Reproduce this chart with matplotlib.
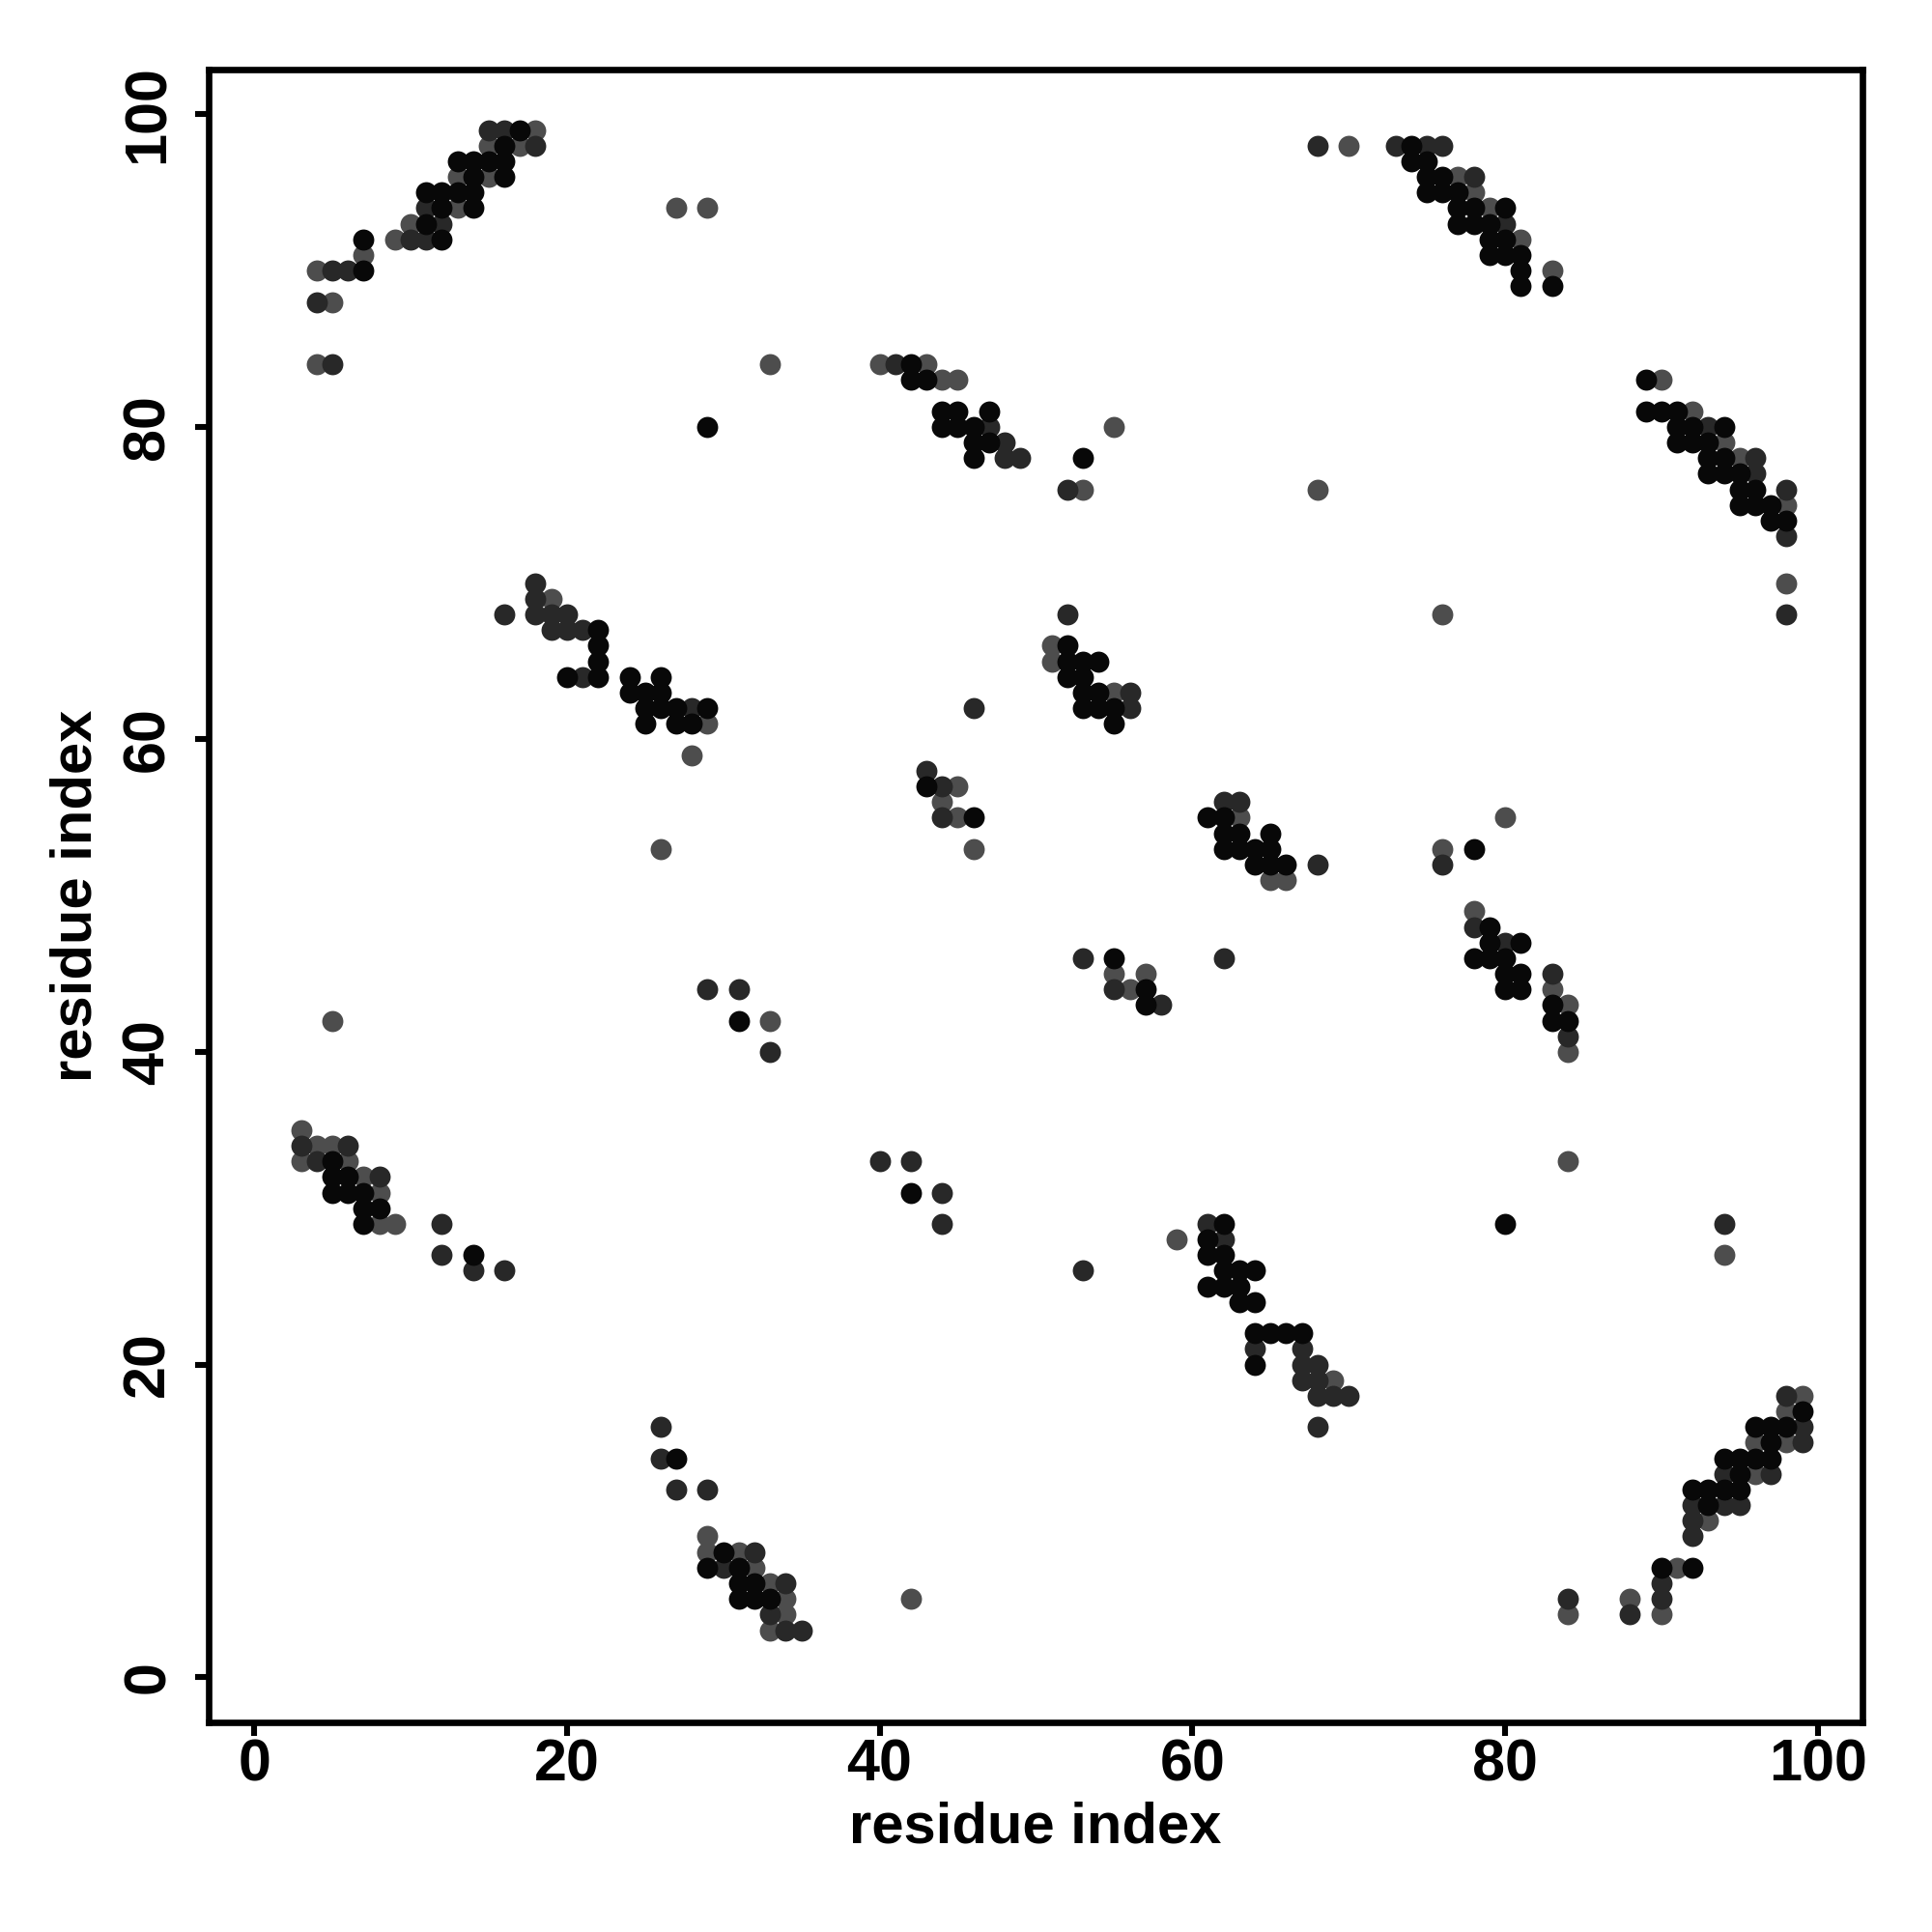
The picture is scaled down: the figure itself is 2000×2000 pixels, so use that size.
import matplotlib
matplotlib.use("Agg")
import matplotlib.pyplot as plt

# contact map: (i, j) residue pairs, grouped by shade of the dot
black_pts = [
    (17, 99), (16, 98), (13, 97), (14, 97), (15, 97), (16, 97), (14, 96), (16, 96),
    (11, 95), (12, 95), (13, 95), (14, 95), (12, 94), (14, 94), (11, 93), (12, 92),
    (7, 92), (7, 90), (29, 80),
    (42, 84), (42, 83), (43, 83), (44, 81), (45, 81), (47, 81), (44, 80), (45, 80),
    (46, 80), (46, 79), (47, 79), (46, 78), (53, 78),
    (74, 98), (74, 97), (75, 97), (75, 96), (76, 96), (75, 95), (76, 95), (77, 95),
    (77, 94), (78, 94), (80, 94), (77, 93), (78, 93), (79, 93), (79, 92), (80, 92),
    (79, 91), (80, 91), (81, 91), (81, 90), (81, 89), (83, 89),
    (89, 83), (89, 81), (90, 81), (91, 81), (91, 80), (92, 80), (94, 80), (91, 79),
    (92, 79), (93, 79), (93, 78), (94, 78), (93, 77), (94, 77), (95, 77),
    (95, 76), (96, 76), (95, 75), (96, 75), (97, 75), (97, 74), (98, 74), (78, 53),
    (22, 67), (22, 66), (22, 65), (20, 64), (22, 64), (24, 64), (26, 64), (24, 63),
    (25, 63), (26, 63), (25, 62), (26, 62), (27, 62), (29, 62), (25, 61), (27, 61), (28, 61),
    (52, 66), (52, 65), (53, 65), (54, 65), (52, 64), (53, 64), (53, 63), (54, 63),
    (53, 62), (54, 62), (55, 62), (55, 61),
    (43, 57), (46, 55), (61, 55), (62, 55), (62, 54), (63, 54), (65, 54), (62, 53),
    (63, 53), (64, 53), (65, 53), (64, 52), (65, 52), (66, 52),
    (31, 42), (5, 33), (5, 32), (6, 32), (5, 31), (6, 31), (7, 31), (7, 30), (8, 30),
    (7, 29), (14, 27),
    (55, 46), (57, 44), (57, 43), (42, 31), (62, 29), (61, 28), (61, 27), (62, 27),
    (62, 26), (63, 26), (64, 26), (61, 25), (62, 25), (63, 25),
    (63, 24), (64, 24), (64, 22), (65, 22), (66, 22), (67, 22), (64, 20), (33, 5),
    (27, 14), (30, 8), (29, 7), (31, 7), (31, 6), (32, 6), (31, 5), (32, 5),
    (99, 17), (96, 16), (97, 16), (98, 16), (97, 15), (94, 14), (95, 14), (96, 14),
    (97, 14), (95, 13), (92, 12), (93, 12), (94, 12), (95, 12), (93, 11), (90, 7), (92, 7),
    (79, 48), (79, 47), (81, 47), (78, 46), (79, 46), (80, 46), (80, 45), (81, 45),
    (80, 44), (81, 44), (83, 43), (83, 42), (84, 42), (80, 29),
]

dark_pts = [
    (15, 99), (16, 99), (18, 98), (12, 93), (10, 92), (11, 92), (11, 94), (5, 90),
    (6, 90), (4, 88), (5, 84),
    (41, 84), (47, 80), (48, 79), (48, 78), (49, 78),
    (68, 98), (73, 98), (75, 98), (76, 98), (78, 96), (80, 93), (93, 80), (96, 78), (96, 77),
    (98, 76), (98, 73), (98, 68), (68, 52), (76, 52),
    (18, 70), (18, 69), (16, 68), (18, 68), (19, 68), (20, 68), (19, 67), (20, 67),
    (21, 67), (21, 64), (28, 62),
    (52, 76), (52, 68), (56, 63), (56, 62), (46, 62), (43, 58), (44, 57), (44, 55),
    (62, 56), (63, 56),
    (29, 44), (31, 44), (33, 40), (3, 34), (6, 34), (4, 33), (8, 32), (12, 29),
    (12, 27), (14, 26), (16, 26),
    (53, 46), (62, 46), (55, 44), (58, 43), (40, 33), (42, 33), (44, 31), (44, 29),
    (61, 29), (62, 28), (53, 26),
    (64, 21), (67, 21), (67, 20), (67, 19), (34, 6), (33, 4), (34, 3), (35, 3),
    (26, 16), (26, 14), (27, 12), (29, 12), (32, 8), (30, 7),
    (68, 20), (68, 19), (68, 18), (69, 18), (70, 18), (68, 16), (98, 18), (99, 16),
    (99, 15), (94, 13), (97, 13), (92, 11), (94, 11), (95, 11), (92, 10), (92, 9),
    (90, 6), (84, 5), (90, 5), (88, 4),
    (78, 48), (80, 47), (83, 45), (84, 41), (94, 29),
]

gray_pts = [
    (18, 99), (15, 98), (17, 98), (13, 96), (15, 96), (13, 94), (10, 93), (9, 92),
    (7, 91), (4, 90), (5, 88), (4, 84), (27, 94), (29, 94), (33, 84),
    (40, 84), (43, 84), (44, 83), (45, 83), (55, 80),
    (70, 98), (77, 96), (78, 95), (79, 94), (81, 92), (83, 90), (90, 83), (92, 81),
    (94, 79), (95, 78),
    (68, 76), (98, 75), (98, 70), (76, 68), (80, 55), (76, 53),
    (19, 69), (29, 61), (28, 59), (26, 53),
    (53, 76), (51, 66), (51, 65), (55, 63), (45, 57), (44, 56), (45, 55), (46, 53),
    (63, 55), (65, 51), (66, 51),
    (5, 42), (33, 42), (3, 35), (4, 34), (5, 34), (3, 33), (6, 33), (7, 32), (8, 31),
    (8, 29), (9, 29),
    (55, 45), (57, 45), (56, 44), (59, 28),
    (33, 6), (34, 5), (42, 5), (34, 4), (33, 3),
    (29, 9), (29, 8), (31, 8), (32, 7),
    (69, 19), (99, 18), (98, 17), (96, 15), (98, 15), (96, 13), (93, 10), (91, 7),
    (88, 5), (84, 4), (90, 4),
    (78, 49), (83, 44), (84, 43), (84, 40), (84, 33), (94, 27),
]

ticks = [0, 20, 40, 60, 80, 100]

plt.rcParams['font.family'] = ['Liberation Sans', 'DejaVu Sans']
plt.rcParams['font.weight'] = 'bold'

fig = plt.figure(figsize=(10, 10), dpi=200)
ax = fig.add_axes([0.108, 0.1085, 0.856, 0.8555])

for pts, col in [(gray_pts, '#4d4d4d'), (dark_pts, '#282828'), (black_pts, '#080808')]:
    xs = [p[0] for p in pts]
    ys = [p[1] for p in pts]
    ax.scatter(xs, ys, s=62, c=col, linewidths=0)

ax.set_xlim(-2.91, 102.86)
ax.set_ylim(-2.9, 102.87)
ax.set_xticks(ticks)
ax.set_yticks(ticks)
ax.set_xticklabels([str(t) for t in ticks], fontsize=22, fontweight='bold')
ax.set_yticklabels([str(t) for t in ticks], fontsize=22, fontweight='bold',
                   rotation=90, va='center')
ax.tick_params(axis='both', direction='out', length=5, width=2.2)
ax.tick_params(axis='x', pad=1)
ax.tick_params(axis='y', pad=7)

for sp in ax.spines.values():
    sp.set_linewidth(2.4)

ax.set_xlabel("residue index", fontsize=21.5, fontweight='bold')
ax.set_ylabel("residue index", fontsize=21.5, fontweight='bold')
ax.xaxis.label.set_va('center')
ax.yaxis.label.set_va('center')
ax.xaxis.set_label_coords(0.5, -0.0637)
ax.yaxis.set_label_coords(-0.08, 0.5)

fig.savefig("out.png", dpi=200)
